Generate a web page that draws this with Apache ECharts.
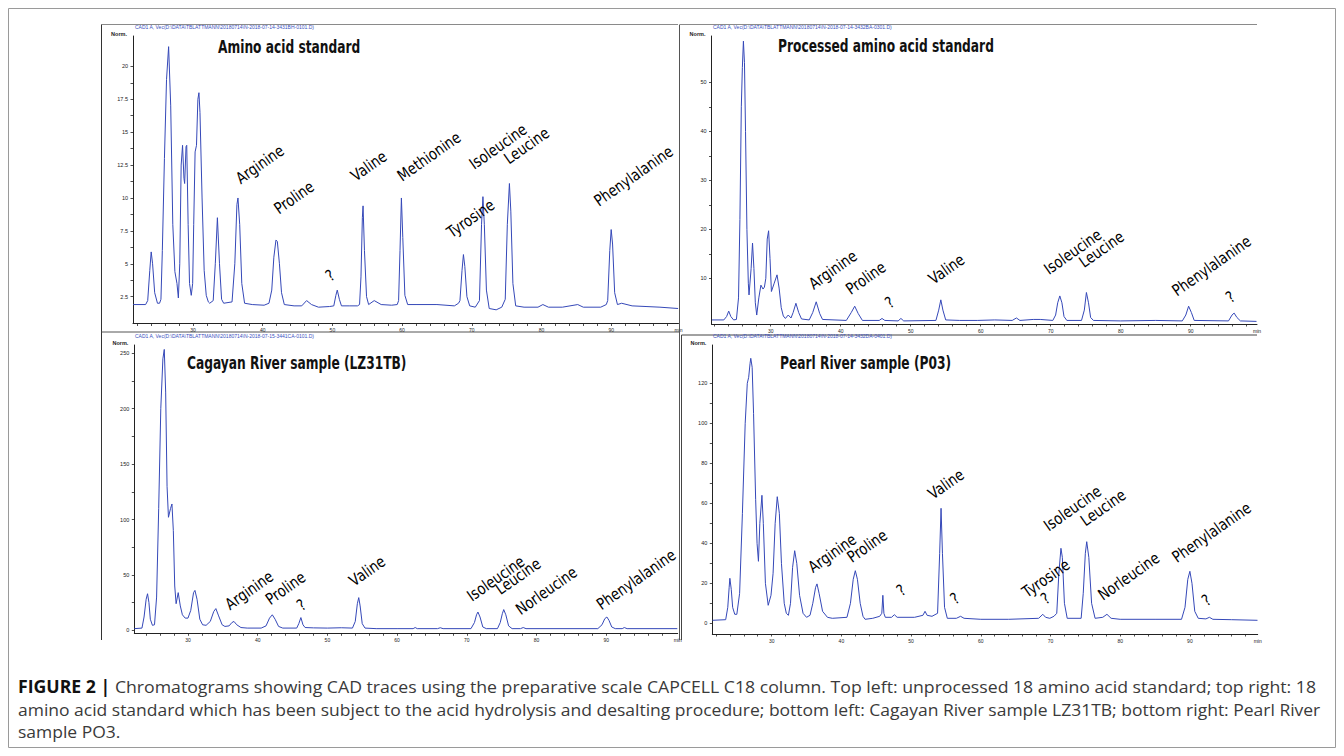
<!DOCTYPE html>
<html><head><meta charset="utf-8">
<script src="https://cdn.jsdelivr.net/npm/echarts@6/dist/echarts.min.js"></script>
<style>html,body{margin:0;padding:0;background:#fff}#c{width:1344px;height:756px}</style>
</head><body><div id="c"></div>
<script>
// ---------- DATA ----------
// retention time (min), signal (Norm.)
const tlTrace = [[21.4,1.9],[23.2,1.9],[23.5,2.2],[23.8,4.5],[24.0,5.9],[24.2,5.0],[24.5,2.8],[24.9,2.0],[25.2,2.0],
 [25.4,2.3],[25.6,6],[25.9,13],[26.2,19],[26.5,21.5],[26.8,17],[27.1,8],[27.4,4.4],[27.7,3.5],[27.9,2.4],
 [28.1,5],[28.3,12.5],[28.5,14.0],[28.7,11.5],[28.8,11.1],[29.0,13.9],[29.1,14.0],[29.3,8],[29.5,3.5],[29.75,2.6],
 [29.95,3.5],[30.1,8],[30.3,13.5],[30.5,14],[30.7,17.5],[30.85,18.0],[31.0,16.5],[31.3,10],[31.6,4.5],[31.9,2.6],[32.2,2.1],
 [32.4,2.0],[32.9,2.2],[33.2,5],[33.5,8.5],[33.8,5],[34.1,2.3],[34.4,2.0],
 [35.6,2.1],[36.0,5],[36.3,9.5],[36.45,10.0],[36.7,8],[37.0,3.5],[37.4,2.0],[38.5,1.9],[40.2,1.85],
 [40.9,2.0],[41.3,3.0],[41.6,5.5],[41.9,6.8],[42.1,6.7],[42.4,5],[42.7,2.8],[43.1,1.9],[44.5,1.8],
 [45.6,1.8],[46.3,2.2],[47.0,1.9],[48.0,1.7],[49.6,1.75],[50.2,1.8],[50.5,2.6],[50.7,3.0],[51.0,2.3],[51.3,1.8],[52.5,1.8],[53.6,1.8],
 [53.9,1.9],[54.1,4],[54.3,8.5],[54.4,9.4],[54.6,6],[54.9,2.5],[55.2,1.9],[56.0,2.2],[57.0,1.9],[58.5,1.85],[59.3,1.9],
 [59.5,2.2],[59.7,6],[59.9,10.0],[60.1,7],[60.4,2.6],[60.8,1.9],[62,1.9],[65,1.9],[67.5,1.8],[68.1,2.0],
 [68.3,2.2],[68.6,4.5],[68.8,5.7],[69.0,4.8],[69.3,2.5],[69.7,1.8],[70.5,1.7],
 [71.1,2.2],[71.4,8],[71.6,10.1],[71.8,8],[72.1,3],[72.5,1.6],[73.5,1.5],[74.3,1.7],
 [74.8,2.3],[75.1,8],[75.4,11.1],[75.6,9],[75.9,3.5],[76.3,1.8],[77.5,1.7],[79.5,1.7],[80.2,1.9],[81,1.7],[83,1.7],[85.2,1.9],[86,1.7],[88.5,1.7],[89.3,1.9],
 [89.5,2.2],[89.8,6],[90.0,7.6],[90.2,6.5],[90.5,2.8],[90.9,1.9],[91.5,2.0],[93,1.8],[95,1.75],[97,1.7],[99.6,1.6]];

const trTrace = [[21.6,1.5],[23.3,1.5],[23.7,2.2],[24.0,3.3],[24.3,2.2],[24.7,1.5],[25.1,1.6],
 [25.4,6],[25.6,22],[25.8,45],[25.95,53],[26.1,58.4],[26.25,54],[26.4,40],[26.6,20],[26.8,9],[26.9,6.6],
 [27.2,12],[27.4,17.2],[27.6,12],[27.8,5],[28.0,2.5],[28.3,6],[28.6,8.6],[28.9,7.8],[29.1,8.2],[29.3,10],[29.5,18],[29.7,19.7],[29.9,14],
 [30.1,7.3],[30.5,9],[30.9,10.7],[31.2,8],[31.5,4],[31.8,2.3],[32.1,1.8],[32.5,2.5],[32.9,1.9],[33.2,3.0],[33.6,4.9],[34.0,3.0],[34.4,1.7],
 [35.5,1.5],[36.0,3],[36.5,5.2],[37.0,2.8],[37.4,1.6],[40.8,1.4],[41.5,3],[42.0,4.3],[42.5,2.8],[43.1,1.4],
 [45.5,1.4],[45.9,1.8],[46.3,1.4],[48.2,1.3],[48.6,1.8],[49.0,1.3],[53.6,1.4],[54.0,3.5],[54.3,5.6],[54.6,3.5],[55.0,1.5],
 [57,1.4],[59.5,1.4],[62,1.5],[64.5,1.4],[65.1,1.9],[65.6,1.4],[67.5,1.6],[68.5,1.6],[70.3,1.4],
 [70.7,2.5],[71.0,5],[71.3,6.4],[71.6,5],[71.9,2.2],[72.3,1.4],[74.4,1.4],[74.8,3.5],[75.1,7.1],[75.4,5],[75.7,2],[76.1,1.4],
 [80,1.3],[85,1.4],[88.8,1.3],[89.3,2.5],[89.7,4.3],[90.1,3],[90.5,1.4],[95.4,1.3],[95.9,2.5],[96.2,2.9],[96.6,2],[97.1,1.3],[99.4,1.2]];

const blTrace = [[22.3,1.5],[23.4,2],[23.7,12],[24.0,28],[24.2,33],[24.4,25],[24.6,10],[24.9,4.5],[25.2,5],
 [25.5,30],[25.8,110],[26.1,200],[26.4,245],[26.6,253.5],[26.8,215],[27.0,130],[27.2,102],[27.5,110],[27.7,114],[27.9,90],[28.1,40],[28.3,24],
 [28.6,34],[28.9,22],[29.2,14],[29.6,11],[30.0,11],[30.4,18],[30.8,34],[31.0,36],[31.3,28],[31.7,10],[32.1,5],[32.6,4.5],
 [33.2,8],[33.7,17],[34.0,19.6],[34.4,13],[34.9,5],[35.3,3.5],[35.9,4],[36.3,7],[36.6,8],[37.0,5],[37.6,2.5],[38.5,2],[40.5,2],
 [41.2,4],[41.7,11],[42.1,14],[42.5,10],[43.0,3.5],[43.6,2],[45.6,2],[45.9,6],[46.2,11.5],[46.5,5],[46.8,2.5],[48,2.2],[50,2],[52,2.3],[53.6,2],
 [54.0,8],[54.3,24],[54.5,29.5],[54.7,22],[55.0,6],[55.4,2],[57,1.5],[60,1.5],[62.3,1.5],[62.6,2.5],[62.9,1.5],[65.8,1.5],[66.2,2.3],[66.6,1.5],[70.6,1.5],
 [71.1,7],[71.4,14],[71.6,16.5],[71.9,12],[72.3,3],[72.8,1.5],[74.4,1.5],[74.8,7],[75.1,15],[75.3,18.7],[75.6,14],[76.0,4],[76.5,1.5],
 [77.7,1.5],[78.1,2.5],[78.5,1.5],[88.8,1.5],[89.4,5],[89.8,10.5],[90.1,12],[90.4,9],[90.8,3],[91.3,1.5],[92.3,1.5],[92.6,2.5],[93.0,1.5],[96,1.5],[100.2,1.5]];

const brTrace = [[21.5,1.5],[23.4,1.8],[23.7,8],[23.9,18],[24.0,22.5],[24.2,17],[24.4,8],[24.7,4.5],[25.0,4.5],
 [25.4,15],[25.8,55],[26.2,100],[26.5,120],[26.7,123],[26.9,130],[27.0,132.5],[27.2,128],[27.4,105],[27.7,62],[27.9,40],[28.1,31],
 [28.3,50],[28.6,64],[28.8,50],[29.1,20],[29.5,9],[29.9,14],[30.2,25],[30.5,50],[30.8,63.3],[31.1,55],[31.4,30],[31.8,10],[32.1,5],[32.4,4],
 [32.7,10],[33.0,28],[33.3,36.3],[33.6,30],[34.0,14],[34.5,5],[35.0,3],[35.5,4],[35.9,10],[36.3,18],[36.5,19.7],[36.8,15],[37.3,6],[38.0,3],[38.7,2.5],
 [40.8,3],[41.3,10],[41.7,22],[42.0,26.3],[42.3,22],[42.7,10],[43.1,3.5],[43.4,2],[44.5,2.5],[45.5,3.5],[45.8,5],[45.95,14],[46.1,5],[46.3,3],
 [47.2,3],[47.6,4.3],[48.0,3],[50.5,3],[51.7,4],[52.0,6],[52.3,4],[53.0,3.5],[53.8,5],[54.1,35],[54.3,57.5],[54.5,35],[54.8,8],[55.2,2.5],
 [56.5,2.5],[57.1,3.5],[57.6,2.5],[60,2],[64,2],[68.3,2.5],[68.9,4.5],[69.3,3],[69.9,2.5],[70.5,3.5],[70.9,5],[71.2,25],[71.5,37.5],[71.7,33],[72.0,10],[72.4,2.5],
 [74.4,2.5],[74.7,15],[75.0,35],[75.2,40.8],[75.5,33],[75.9,10],[76.4,2.5],[77.5,3],[78.1,4.5],[78.7,2.5],[80,2],[85,2],
 [88.8,2],[89.3,8],[89.7,22],[90.0,26],[90.3,20],[90.7,6],[91.2,2.5],[92.3,2.2],[92.8,3],[93.3,2],[96,1.8],[99.7,1.5]];

// peak annotations: [text, time, signal]
const tlLabels = [["Arginine",37.0,10.9],["Proline",42.5,8.6],["?",49.9,3.5],["Valine",53.5,11.1],["Methionine",60.2,11.1],
 ["Tyrosine",67.3,6.8],["Isoleucine",70.5,12.0],["Leucine",75.5,12.4],["Phenylalanine",88.4,9.2]];
const trLabels = [["Arginine",36.3,7.3],["Proline",41.6,6.2],["?",47.2,3.4],["Valine",53.4,8.3],["Isoleucine",69.9,10.3],
 ["Leucine",74.9,11.7],["Phenylalanine",88.2,5.9],["?",95.9,4.5]];
const blLabels = [["Arginine",36.2,16.5],["Proline",42.0,21.0],["?",46.5,15.6],["Valine",54.0,37.7],["Isoleucine",70.9,24.1],
 ["Leucine",75.0,30.1],["Norleucine",77.9,12.0],["Phenylalanine",89.5,16.5]];
const brLabels = [["Arginine",36.1,24.2],["Proline",41.7,29.2],["?",48.8,12.5],["Valine",53.3,60.8],["?",56.5,8.3],
 ["Tyrosine",66.8,11.7],["?",69.5,8.3],["Isoleucine",69.9,45.0],["Leucine",75.2,47.5],["Norleucine",77.7,10.3],
 ["Phenylalanine",88.3,29.2],["?",92.6,7.5]];

// axis tick labels
const xTickLabels = [30,40,50,60,70,80,90];
const xMinorTicks = [22,24,26,28,30,32,34,36,38,40,42,44,46,48,50,52,54,56,58,60,62,64,66,68,70,72,74,76,78,80,82,84,86,88,90,92,94,96,98];
const tlYLabels = [2.5,5,7.5,10,12.5,15,17.5,20];
const trYLabels = [10,20,30,40,50];
const blYLabels = [0,50,100,150,200,250];
const brYLabels = [0,20,40,60,80,100,120];

const titles = ["Amino acid standard","Processed amino acid standard","Cagayan River sample (LZ31TB)","Pearl River sample (P03)"];
const fileHeaders = ["CAD1 A, Vec(D:\\DATA\\TBLATTMANN\\20180714\\N-2018-07-14-3431BH-0101.D)",
 "CAD1 A, Vec(D:\\DATA\\TBLATTMANN\\20180714\\N-2018-07-14-3432BA-0301.D)",
 "CAD1 A, Vec(D:\\DATA\\TBLATTMANN\\20180714\\N-2018-07-15-3441CA-0101.D)",
 "CAD1 A, Vec(D:\\DATA\\TBLATTMANN\\20180714\\N-2018-07-14-3432DA-0401.D)"];
const captionLines = [
 "Chromatograms showing CAD traces using the preparative scale CAPCELL C18 column. Top left: unprocessed 18 amino acid standard; top right: 18",
 "amino acid standard which has been subject to the acid hydrolysis and desalting procedure; bottom left: Cagayan River sample LZ31TB; bottom right: Pearl River",
 "sample PO3."];

// ---------- LAYOUT ----------
const panels = [
 {grid:{left:133,top:36,width:545.5,height:287.5}, x:[21.39,99.66], y:[0.46,22.31], yl:tlYLabels, trace:tlTrace, labels:tlLabels, title:[218,47], head:[135,27]},
 {grid:{left:711.5,top:36,width:545.5,height:288}, x:[21.54,99.47], y:[0.67,59.45], yl:trYLabels, trace:trTrace, labels:trLabels, title:[778,45.5], head:[713,27]},
 {grid:{left:134.3,top:345,width:543.4,height:288.3}, x:[22.3,100.26], y:[-2.7,257.5], yl:blYLabels, trace:blTrace, labels:blLabels, title:[187,363], head:[135,336]},
 {grid:{left:712.3,top:345,width:545.4,height:289}, x:[21.48,99.73], y:[-5.35,139.15], yl:brYLabels, trace:brTrace, labels:brLabels, title:[780,362.5], head:[713,336]}
];

const LINE = '#3548b8';
const AX = '#222';
const grids=[], xAxes=[], yAxes=[], series=[], graphic=[];

panels.forEach((p,i)=>{
  grids.push(Object.assign({containLabel:false}, p.grid));
  const xmax = p.x[1];
  xAxes.push({type:'value', gridIndex:i, min:p.x[0], max:xmax,
    axisLine:{show:true,onZero:false,lineStyle:{color:AX,width:1}},
    axisTick:{show:true,length:2.5,lineStyle:{color:AX,width:0.8},customValues:xMinorTicks},
    axisLabel:{show:true,fontSize:5,color:'#222',margin:4,fontFamily:'Liberation Sans',
      customValues:xTickLabels.concat([xmax]), formatter:v=> (Math.abs(v-xmax)<1e-6?'min':String(v))},
    splitLine:{show:false}});
  const ymid=[]; for(let k=0;k<p.yl.length;k++){ymid.push(p.yl[k]); if(k<p.yl.length-1) ymid.push((p.yl[k]+p.yl[k+1])/2);}
  yAxes.push({type:'value', gridIndex:i, min:p.y[0], max:p.y[1],
    name:'Norm.', nameLocation:'end', nameGap:2,
    nameTextStyle:{fontSize:5.5,fontWeight:'bold',color:'#222',align:'right',verticalAlign:'middle',padding:[0,6,0,0],fontFamily:'Liberation Sans'},
    axisLine:{show:true,lineStyle:{color:AX,width:1}},
    axisTick:{show:true,length:2.5,lineStyle:{color:AX,width:0.8},customValues:ymid},
    axisLabel:{show:true,fontSize:5.5,color:'#222',margin:5,fontFamily:'Liberation Sans',customValues:p.yl},
    splitLine:{show:false}});
  series.push({type:'line', xAxisIndex:i, yAxisIndex:i, data:p.trace, showSymbol:false, symbol:'none',
    lineStyle:{color:LINE,width:1}, animation:false, clip:true, z:3});
  // condensed bold panel title (bold sans squeezed horizontally)
  graphic.push({type:'text', x:p.title[0], y:p.title[1], scaleX:0.72, z:10, silent:true,
    style:{text:titles[i], font:'bold 17px "DejaVu Sans"', fill:'#111', align:'left', verticalAlign:'middle'}});
  graphic.push({type:'text', x:p.head[0], y:p.head[1], z:10, silent:true,
    style:{text:fileHeaders[i], font:'5px "Liberation Sans"', fill:'#3a4fc0', align:'left', verticalAlign:'middle'}});
});

// frames
const lineG = (x1,y1,x2,y2,c)=>({type:'line', silent:true, z:1, shape:{x1,y1,x2,y2}, style:{stroke:c,lineWidth:1}});
graphic.push({type:'rect', silent:true, z:0, shape:{x:8.5,y:8.5,width:1327,height:739}, style:{fill:'none',stroke:'#9a9a9a',lineWidth:1}});
graphic.push(lineG(101.5,24.5,678,24.5,'#8a8a8a'));
graphic.push(lineG(101.5,24.5,101.5,640,'#333'));
graphic.push(lineG(679.5,24.5,679.5,640,'#555'));
graphic.push(lineG(680,24.5,1257,24.5,'#8a8a8a'));
graphic.push(lineG(101.5,332,679.5,332,'#555'));
graphic.push(lineG(681.5,335,1257,335,'#444'));
graphic.push(lineG(681.5,335,681.5,640,'#444'));

// caption (justified lines emulated with a slight horizontal stretch)
const CAP_FONT = '17px "Open Sans", "Liberation Sans"';
graphic.push({type:'text', x:18, y:686, scaleX:1.04, z:10, silent:true,
  style:{text:'{b|FIGURE 2 |} '+captionLines[0], font:CAP_FONT, fill:'#3a3a3a', verticalAlign:'middle',
    rich:{b:{fontWeight:'bold', fontSize:17, fontFamily:'Open Sans', fill:'#111'}}}});
graphic.push({type:'text', x:18, y:710, scaleX:1.029, z:10, silent:true, style:{text:captionLines[1], font:CAP_FONT, fill:'#3a3a3a', verticalAlign:'middle'}});
graphic.push({type:'text', x:18, y:732, scaleX:1.029, z:10, silent:true, style:{text:captionLines[2], font:CAP_FONT, fill:'#3a3a3a', verticalAlign:'middle'}});

const chart = echarts.init(document.getElementById('c'), null, {renderer:'svg', width:1344, height:756});
chart.setOption({animation:false, backgroundColor:'#fff', grid:grids, xAxis:xAxes, yAxis:yAxes, series, graphic});

// peak annotations positioned through each panel's own axes
panels.forEach((p,i)=>{
  p.labels.forEach(l=>{
    const pt = chart.convertToPixel({gridIndex:i}, [l[1], l[2]]);
    graphic.push({type:'text', x:pt[0], y:pt[1], rotation:35*Math.PI/180, scaleX:0.82, z:12, silent:true,
      style:{text:l[0], font:'16px "DejaVu Sans"', fill:'#000', align:'left', verticalAlign:'bottom'}});
  });
});
chart.setOption({graphic});
</script></body></html>
